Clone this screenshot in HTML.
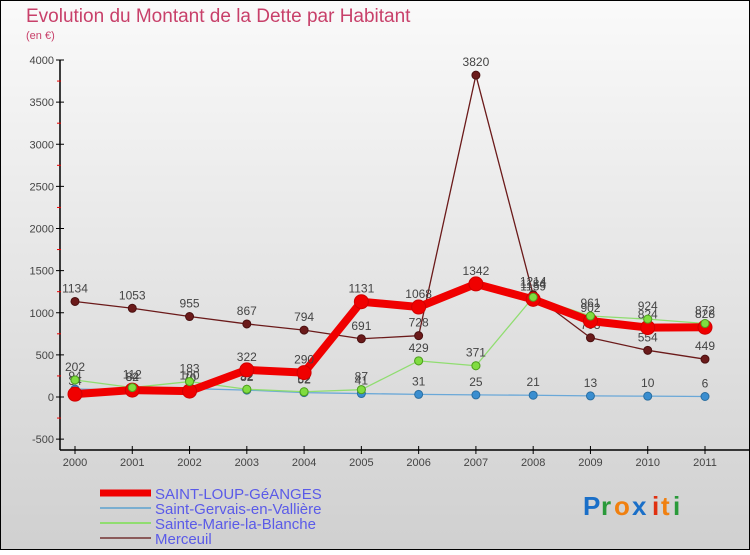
<!DOCTYPE html>
<html><head><meta charset="utf-8">
<style>
html,body{margin:0;padding:0;}
body{width:750px;height:550px;overflow:hidden;font-family:"Liberation Sans",sans-serif;}
</style></head>
<body>
<svg id="chart" width="750" height="550" xmlns="http://www.w3.org/2000/svg">
<defs>
<linearGradient id="bg" x1="0" y1="0" x2="0" y2="1">
<stop offset="0" stop-color="#fafafa"/><stop offset="1" stop-color="#d0d0d0"/>
</linearGradient>
</defs>
<rect x="0.5" y="0.5" width="749" height="549" fill="url(#bg)" stroke="#000"/>
<text x="26" y="22" font-size="19" fill="#c8406a">Evolution du Montant de la Dette par Habitant</text>
<text x="26" y="39" font-size="11" fill="#c8406a">(en €)</text>
<g id="axes"></g>
<g id="series"></g>
<g id="legend"></g>
<g font-size="26" font-weight="bold">
<text x="583" y="515" fill="#1a6fc8">P</text><text x="601" y="515" fill="#2a9a3a">r</text><text x="614" y="515" fill="#f08010">o</text><text x="632" y="515" fill="#1a6fc8">x</text><text x="652" y="515" fill="#e03010">i</text><text x="661" y="515" fill="#f08010">t</text><text x="673" y="515" fill="#2a9a3a">i</text>
</g>
</svg>
<script>
const years = ["2000","2001","2002","2003","2004","2005","2006","2007","2008","2009","2010","2011"];
const yTicks = [-500,0,500,1000,1500,2000,2500,3000,3500,4000];
const saintLoup = [34,82,70,322,290,1131,1068,1342,1159,902,824,828];
const saintGervais = [94,84,100,82,52,41,31,25,21,13,10,6];
const sainteMarie = [202,112,183,92,62,87,429,371,1184,961,924,872];
const merceuil = [1134,1053,955,867,794,691,728,3820,1214,703,554,449];

const NS="http://www.w3.org/2000/svg";
function mk(tag,attrs,parent){const e=document.createElementNS(NS,tag);for(const k in attrs)e.setAttribute(k,attrs[k]);parent.appendChild(e);return e;}
function xs(i){return 75+i*(705-75)/(years.length-1);}
function ys(v){return 397-v*(397-60)/4000;}

const axes=document.getElementById('axes');
let yl=mk('line',{x1:60,y1:60,x2:60,y2:450,stroke:'#000','stroke-width':1.5},axes);


let xl=mk('line',{x1:60,y1:450,x2:750,y2:450,stroke:'#000','stroke-width':1.5},axes);


yTicks.forEach(v=>{
  const y=ys(v);
  mk('line',{x1:56,y1:y,x2:64,y2:y,stroke:'#000'},axes);
  const t=mk('text',{x:54,y:y+4,'font-size':11,fill:'#444','text-anchor':'end'},axes);
  t.textContent=v;
  
  
  if(v<4000) mk('line',{x1:57,y1:ys(v+250),x2:61,y2:ys(v+250),stroke:'#e00'},axes);
});
years.forEach((yr,i)=>{
  const x=xs(i);
  mk('line',{x1:x,y1:446,x2:x,y2:454,stroke:'#000'},axes);
  const t=mk('text',{x:x,y:466,'font-size':11,fill:'#444','text-anchor':'middle'},axes);
  t.textContent=yr;
  
  
});

const series=document.getElementById('series');
function draw(name,data,color,lw,r,dot,dotStroke,labels){
  const g=mk('g',{},series);
  
  
  if(lw>0) mk('polyline',{points:data.map((v,i)=>xs(i)+','+ys(v)).join(' '),fill:'none',stroke:color,'stroke-width':lw,'stroke-linejoin':'round'},g);
  data.forEach((v,i)=>{
    const c=mk('circle',{cx:xs(i),cy:ys(v),r:r,fill:dot,stroke:dotStroke,'stroke-width':1},g);
    
    
    if(labels){
      const t=mk('text',{x:xs(i),y:ys(v)-9,'font-size':12,fill:'#444','text-anchor':'middle'},g);
      t.textContent=v;
      
      
    }
  });
}
draw('merceuil-series',merceuil,'#6b1a1a',1.3,4,'#6b1a1a','#4a1010',true);
draw('saint-gervais-series',saintGervais,'#6aa8d8',1.3,4,'#3a8ed0','#2a6ea0',true);
draw('sainte-marie-series',sainteMarie,'#90dd70',1.3,4,'#80dd40','#50a020',true);
draw('saint-loup-series',saintLoup,'#f00000',8,7,'#f00000','#d00000',true);
draw('sainte-marie-points-top',sainteMarie,'none',0,4,'#80dd40','#50a020',false);

const legend=document.getElementById('legend');
const names=["SAINT-LOUP-GéANGES","Saint-Gervais-en-Vallière","Sainte-Marie-la-Blanche","Merceuil"];
const cols=["#f00000","#7aaed0","#90dd70","#8a5a5a"];
const widths=[7,2,2,2];
names.forEach((n,i)=>{
  const y=493+i*15;
  const g=mk('g',{},legend);
  
  
  mk('line',{x1:100,y1:y,x2:151,y2:y,stroke:cols[i],'stroke-width':widths[i]},g);
  const t=mk('text',{x:155,y:y+6,'font-size':15,fill:'#5a5ae8'},g);
  t.textContent=n;
});
</script>
</body></html>
